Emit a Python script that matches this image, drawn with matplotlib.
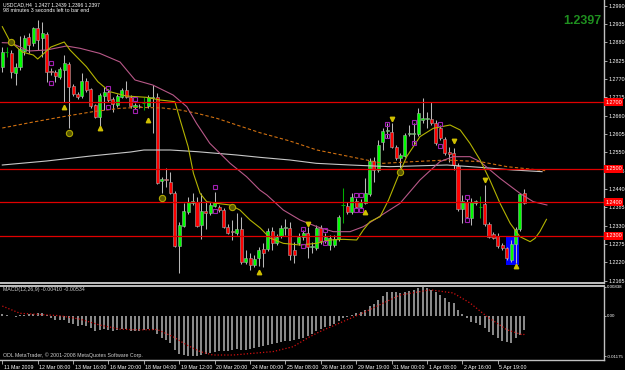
import matplotlib
matplotlib.use("Agg")
import matplotlib.pyplot as plt
from matplotlib.patches import Rectangle
from matplotlib.transforms import ScaledTranslation

plt.rcParams['font.family'] = ['Liberation Sans', 'DejaVu Sans']

# USDCAD H4 candles
opens = [1.2807, 1.2851, 1.2848, 1.2789, 1.2806, 1.2854, 1.2897, 1.2878, 1.2923, 1.2893,
         1.2905, 1.2793, 1.2792, 1.2775, 1.2797, 1.2815, 1.2750, 1.2725, 1.2719, 1.2765,
         1.2740, 1.2691, 1.2655, 1.2719, 1.2732, 1.2709, 1.2692, 1.2717, 1.2737, 1.2717,
         1.2685, 1.2690, 1.2698, 1.2689, 1.2713, 1.2715, 1.2465, 1.2470, 1.2461, 1.2429,
         1.2270, 1.2330, 1.2370, 1.2399, 1.2402, 1.2332, 1.2374, 1.2367, 1.2390, 1.2385,
         1.2377, 1.2327, 1.2314, 1.2307, 1.2319, 1.2220, 1.2234, 1.2212, 1.2232, 1.2260,
         1.2259, 1.2314, 1.2279, 1.2299, 1.2323, 1.2322, 1.2257, 1.2279, 1.2295, 1.2309,
         1.2265, 1.2264, 1.2324, 1.2287, 1.2272, 1.2272, 1.2289, 1.2392, 1.2390, 1.2370,
         1.2404, 1.2387, 1.2399, 1.2424, 1.2524, 1.2497, 1.2580, 1.2614, 1.2612, 1.2565,
         1.2532, 1.2540, 1.2605, 1.2605, 1.2605, 1.2647, 1.2650, 1.2649, 1.2637, 1.2622,
         1.2589, 1.2550, 1.2547, 1.2510, 1.2379, 1.2402, 1.2352, 1.2398, 1.2386, 1.2395,
         1.2334, 1.2305, 1.2299, 1.2272, 1.2262, 1.2227, 1.2275, 1.2319, 1.2427]
highs = [1.2866, 1.2867, 1.2857, 1.2818, 1.2899, 1.2902, 1.2908, 1.2927, 1.2947, 1.2942,
         1.2911, 1.2803, 1.2797, 1.2806, 1.2842, 1.2821, 1.2755, 1.2731, 1.2787, 1.2773,
         1.2743, 1.2695, 1.2728, 1.2747, 1.2740, 1.2716, 1.2725, 1.2743, 1.2764, 1.2722,
         1.2698, 1.2695, 1.2717, 1.2722, 1.2752, 1.2727, 1.2477, 1.2503, 1.2492, 1.2434,
         1.2341, 1.2397, 1.2416, 1.2427, 1.2417, 1.2428, 1.2402, 1.2402, 1.2432, 1.2392,
         1.2383, 1.2335, 1.2347, 1.2368, 1.2357, 1.2257, 1.2248, 1.2242, 1.2266, 1.2278,
         1.2323, 1.2327, 1.2305, 1.2332, 1.2350, 1.2342, 1.2282, 1.2309, 1.2317, 1.2327,
         1.2282, 1.2332, 1.2332, 1.2308, 1.2302, 1.2302, 1.2362, 1.2443, 1.2402, 1.2428,
         1.2413, 1.2410, 1.2473, 1.2533, 1.2537, 1.2587, 1.2623, 1.2638, 1.2637, 1.2572,
         1.2548, 1.2608, 1.2632, 1.2637, 1.2682, 1.2712, 1.2672, 1.2702, 1.2647, 1.2632,
         1.2596, 1.2567, 1.2563, 1.2518, 1.2422, 1.2410, 1.2412, 1.2407, 1.2419, 1.2452,
         1.2341, 1.2311, 1.2307, 1.2278, 1.2267, 1.2287, 1.2327, 1.2428, 1.2439]
lows = [1.2791, 1.2837, 1.2773, 1.2752, 1.2797, 1.2842, 1.2848, 1.2869, 1.2857, 1.2837,
        1.2762, 1.2782, 1.2762, 1.2770, 1.2702, 1.2623, 1.2719, 1.2710, 1.2713, 1.2731,
        1.2683, 1.2653, 1.2627, 1.2677, 1.2701, 1.2671, 1.2686, 1.2713, 1.2713, 1.2683,
        1.2680, 1.2683, 1.2677, 1.2683, 1.2608, 1.2455, 1.2427, 1.2447, 1.2425, 1.2266,
        1.2187, 1.2326, 1.2365, 1.2392, 1.2326, 1.2290, 1.2319, 1.2362, 1.2386, 1.2371,
        1.2323, 1.2305, 1.2287, 1.2302, 1.2215, 1.2215, 1.2197, 1.2206, 1.2209, 1.2206,
        1.2254, 1.2257, 1.2272, 1.2293, 1.2302, 1.2227, 1.2217, 1.2272, 1.2287, 1.2232,
        1.2247, 1.2257, 1.2275, 1.2278, 1.2257, 1.2266, 1.2284, 1.2339, 1.2365, 1.2365,
        1.2383, 1.2383, 1.2395, 1.2419, 1.2462, 1.2491, 1.2557, 1.2593, 1.2563, 1.2527,
        1.2503, 1.2536, 1.2599, 1.2572, 1.2599, 1.2637, 1.2622, 1.2632, 1.2572, 1.2587,
        1.2542, 1.2522, 1.2497, 1.2374, 1.2337, 1.2353, 1.2332, 1.2392, 1.2352, 1.2329,
        1.2293, 1.2290, 1.2263, 1.2257, 1.2227, 1.2221, 1.2217, 1.2314, 1.2396]
closes = [1.2852, 1.2851, 1.2791, 1.2807, 1.2860, 1.2893, 1.2872, 1.2923, 1.2887, 1.2908,
          1.2792, 1.2792, 1.2779, 1.2799, 1.2817, 1.2747, 1.2725, 1.2715, 1.2765, 1.2737,
          1.2689, 1.2657, 1.2721, 1.2732, 1.2707, 1.2695, 1.2719, 1.2737, 1.2717, 1.2689,
          1.2692, 1.2689, 1.2698, 1.2717, 1.2717, 1.2459, 1.2469, 1.2467, 1.2429, 1.2270,
          1.2332, 1.2374, 1.2400, 1.2404, 1.2330, 1.2374, 1.2368, 1.2392, 1.2402, 1.2377,
          1.2327, 1.2309, 1.2310, 1.2319, 1.2220, 1.2232, 1.2212, 1.2229, 1.2257, 1.2248,
          1.2314, 1.2279, 1.2297, 1.2322, 1.2327, 1.2242, 1.2242, 1.2295, 1.2307, 1.2267,
          1.2269, 1.2324, 1.2285, 1.2295, 1.2292, 1.2289, 1.2357, 1.2392, 1.2370, 1.2417,
          1.2387, 1.2402, 1.2427, 1.2524, 1.2497, 1.2572, 1.2615, 1.2616, 1.2567, 1.2532,
          1.2542, 1.2602, 1.2608, 1.2609, 1.2669, 1.2652, 1.2654, 1.2637, 1.2577, 1.2592,
          1.2547, 1.2545, 1.2512, 1.2379, 1.2405, 1.2357, 1.2402, 1.2403, 1.2386, 1.2335,
          1.2297, 1.2294, 1.2269, 1.2262, 1.2232, 1.2275, 1.2319, 1.2424, 1.2397]

# moving averages (shifted forward, so they run past the last bar)
ma_fast_bars = [0, 1.7, 4.5, 7, 8, 11, 14, 15.3, 19, 21.6, 24.3, 28, 32.6, 35.6, 39, 40.2,
                42, 43.2, 44.7, 46.2, 48.5, 51.5, 53.7, 56, 58.3, 60.5, 63.5, 67.3, 71, 74.1,
                77.1, 80.1, 81.6, 83.1, 85.4, 87.3, 89.9, 91.4, 94.4, 97.4, 101.2, 103.5,
                105.7, 108, 110.2, 112.5, 114.8, 117, 119.3, 120.4, 121.5, 123]
ma_fast = [1.2927, 1.2884, 1.2851, 1.2842, 1.2830, 1.2866, 1.2881, 1.2857, 1.2807, 1.2762,
           1.2732, 1.2719, 1.2715, 1.2707, 1.2702, 1.2647, 1.2567, 1.2487, 1.2427, 1.2402,
           1.2397, 1.2392, 1.2377, 1.2347, 1.2323, 1.2293, 1.2277, 1.2272, 1.2277, 1.2287,
           1.2289, 1.2287, 1.2317, 1.2342, 1.2357, 1.2407, 1.2492, 1.2537, 1.2597, 1.2622,
           1.2632, 1.2617, 1.2577, 1.2527, 1.2467, 1.2397, 1.2337, 1.2297, 1.2282, 1.2292,
           1.2312, 1.2349]
ma_mid_bars = [0, 2, 6, 10, 14.5, 17.6, 22, 26.6, 30, 34, 38.6, 41.7, 43.9, 46.9, 51.5,
               55.2, 58.2, 59.8, 63.5, 67.3, 71.1, 74.8, 78.6, 81.6, 84.6, 89.9, 94.4, 98.9,
               101.9, 105.7, 108, 112.5, 117, 120, 123.1]
ma_mid = [1.2879, 1.2878, 1.2854, 1.2857, 1.2869, 1.2862, 1.2847, 1.2821, 1.2767, 1.2752,
          1.2722, 1.2687, 1.2637, 1.2577, 1.2517, 1.2477, 1.2437, 1.2422, 1.2377, 1.2347,
          1.2327, 1.2312, 1.2312, 1.2327, 1.2352, 1.2397, 1.2467, 1.2522, 1.2537, 1.2537,
          1.2522, 1.2472, 1.2427, 1.2402, 1.2392]
ma_slow_bars = [0, 7, 14.6, 20.5, 26.6, 31.1, 36.3, 40.2, 44, 48.5, 53, 58.2, 65, 71.1,
                78.6, 86, 92.8, 100.5, 108, 114.1, 122.7]
ma_slow = [1.2623, 1.2641, 1.2659, 1.2672, 1.2682, 1.2685, 1.2683, 1.2677, 1.2667, 1.2652,
           1.2632, 1.2609, 1.2584, 1.2557, 1.2537, 1.2517, 1.2522, 1.2527, 1.2522, 1.2507,
           1.2495]
ma_long_bars = [0, 10, 20, 29, 32, 38, 44, 48.5, 53, 58.2, 65, 71, 78.6, 87.6, 92.8, 100.5,
                108, 115.5, 122]
ma_long = [1.2512, 1.2524, 1.2539, 1.2551, 1.2557, 1.2557, 1.2552, 1.2547, 1.2542, 1.2535,
           1.2527, 1.2517, 1.2512, 1.2507, 1.2509, 1.2512, 1.2505, 1.2497, 1.2492]

levels = [1.2700, 1.2500, 1.2400, 1.2300]
price_ticks = [1.2990, 1.2935, 1.2880, 1.2825, 1.2770, 1.2715, 1.2660, 1.2605, 1.2550,
               1.2495, 1.2440, 1.2385, 1.2330, 1.2275, 1.2220, 1.2165]

box_bars = [114, 116]
box_prices = [1.2212, 1.2297]

frac_bars = [11, 24, 30, 48, 68, 73, 80, 81, 87, 93, 99, 105]
frac_hi = [1.2817, 1.2742, 1.2710, 1.2445, 1.2320, 1.2317, 1.2422, 1.2422, 1.2635, 1.2640,
           1.2635, 1.2415]
frac_lo = [1.2757, 1.2685, 1.2675, 1.2374, 1.2270, 1.2277, 1.2377, 1.2377, 1.2599, 1.2579,
           1.2569, 1.2347]
arrow_up_bars = [14, 22, 33, 58, 82, 116]
arrow_up = [1.2687, 1.2622, 1.2647, 1.2192, 1.2372, 1.2209]
arrow_dn_bars = [69, 88, 102, 109]
arrow_dn = [1.2335, 1.2650, 1.2585, 1.2467]
dot_bars = [2, 15, 36, 52, 90]
dots = [1.2882, 1.2607, 1.2412, 1.2387, 1.2492]

# MACD(12,26,9) main histogram, one value per bar
macd = [0.0006, 0.0003, -0.0002, -0.0003, 0.0001, 0.0003, 0.0004, 0.0006, 0.0008, 0.0007,
        0.0003, -0.0008, -0.0011, -0.0011, -0.0013, -0.0020, -0.0025, -0.0029, -0.0027, -0.0031,
        -0.0037, -0.0043, -0.0041, -0.0039, -0.0041, -0.0043, -0.0041, -0.0039, -0.0039, -0.0043,
        -0.0043, -0.0043, -0.0041, -0.0039, -0.0041, -0.0053, -0.0066, -0.0070, -0.0080, -0.0099,
        -0.0111, -0.0114, -0.0117, -0.01175, -0.0117, -0.0114, -0.0111, -0.0109, -0.0106, -0.0103,
        -0.0101, -0.0101, -0.0099, -0.0097, -0.0099, -0.0099, -0.0097, -0.0095, -0.0092, -0.0088,
        -0.0085, -0.0082, -0.0080, -0.0076, -0.0073, -0.0072, -0.0070, -0.0068, -0.0065, -0.0058,
        -0.0052, -0.0045, -0.0038, -0.0033, -0.0029, -0.0025, -0.0014, -0.0008, -0.0003, 0.0002,
        0.0009, 0.0011, 0.0017, 0.0029, 0.0035, 0.0046, 0.0058, 0.0068, 0.0068, 0.0068,
        0.0066, 0.0068, 0.0072, 0.0075, 0.0080, 0.0083, 0.0081, 0.0075, 0.0068, 0.0061,
        0.0051, 0.0041, 0.0036, 0.0017, 0.0006, -0.0006, -0.0018, -0.0022, -0.0027, -0.0037,
        -0.0047, -0.0056, -0.0065, -0.0072, -0.0077, -0.0080, -0.0065, -0.0056, -0.0041]
signal_bars = [0, 4, 13, 17.6, 22, 26.6, 31.1, 35, 38.6, 41.7, 44.7, 47.6, 52.2, 56.7, 61.2,
               65.7, 69.5, 71.8, 81.5, 89.9, 96.7, 101.9, 105.7, 109.6, 114.1, 117.7, 118]
signal = [0.0028, 0.0007, 0.0, -0.0010, -0.0027, -0.0039, -0.0041, -0.0040, -0.0061, -0.0085,
          -0.0104, -0.0114, -0.0114, -0.0109, -0.0104, -0.0090, -0.0061, -0.0046, 0.0008, 0.0060,
          0.0075, 0.0066, 0.0037, -0.0003, -0.0041, -0.0056, -0.00534]
macd_ticks = [0.00838, 0.0, -0.01175]

time_bars = [0, 8, 16, 24, 32, 40, 48, 56, 64, 72, 80, 88, 96, 104, 112]
time_labels = ['11 Mar 2009', '12 Mar 08:00', '13 Mar 16:00', '16 Mar 20:00', '18 Mar 04:00',
               '19 Mar 12:00', '20 Mar 20:00', '24 Mar 00:00', '25 Mar 08:00', '26 Mar 16:00',
               '29 Mar 19:00', '31 Mar 00:00', '1 Apr 08:00', '2 Apr 16:00', '5 Apr 19:00']

GRID = '#c0c0c0'
fig = plt.figure(figsize=(6.25, 3.7), dpi=100, facecolor='black')
ax = fig.add_axes([0, 1 - 283 / 370, 604 / 625, 283 / 370])
mx = fig.add_axes([0, 1 - 359.5 / 370, 604 / 625, 74 / 370], sharex=ax)

for a in (ax, mx):
    a.set_facecolor('black')
    a.spines['left'].set_visible(False)
    for s in ('right', 'top', 'bottom'):
        a.spines[s].set_color(GRID)
        a.spines[s].set_linewidth(1.0)
ax.spines['top'].set_visible(False)
ax.spines['bottom'].set_linewidth(1.4)
mx.spines['top'].set_linewidth(1.4)

# candles
x = list(range(len(opens)))
wick_col = []
for o, c in zip(opens, closes):
    wick_col.append('#00b000' if o == c else '#b8b8b8')
ax.vlines(x, lows, highs, colors=wick_col, linewidth=0.75, zorder=3)
for i, (o, c) in enumerate(zip(opens, closes)):
    if o == c:
        ax.hlines(o, i - 0.35, i + 0.35, colors='#00b000', linewidth=0.75, zorder=4)
        continue
    col = '#00ff00' if c > o else '#ff0000'
    ax.bar(i, abs(c - o), bottom=min(o, c), width=0.7, color=col,
           edgecolor='#a8a8a8', linewidth=0.4, zorder=4)

ax.add_patch(Rectangle((box_bars[0] - 0.2, box_prices[0]), box_bars[1] - box_bars[0] + 0.9,
                       box_prices[1] - box_prices[0], facecolor='#0000ff', edgecolor='none',
                       zorder=2))

ax.plot(ma_long_bars, ma_long, color='#c8c8c8', linewidth=0.8, zorder=5)
ax.plot(ma_slow_bars, ma_slow, color='#d07010', linewidth=0.8, dashes=(3, 2), zorder=5)
ax.plot(ma_mid_bars, ma_mid, color='#b85888', linewidth=0.8, zorder=5)
ax.plot(ma_fast_bars, ma_fast, color='#b4b400', linewidth=0.8, zorder=5)

for lv in levels:
    ax.axhline(lv, color='#e00000', linewidth=0.9, zorder=6)

ax.plot(frac_bars, frac_hi, 's', ms=3.0, mfc='none', mec='#a020b0', mew=0.8, zorder=7)
ax.plot(frac_bars, frac_lo, 's', ms=3.0, mfc='none', mec='#a020b0', mew=0.8, zorder=7)
ax.plot(arrow_up_bars, arrow_up, '^', ms=3.2, color='#d0c000', zorder=7)
ax.plot(arrow_dn_bars, arrow_dn, 'v', ms=3.2, color='#d0c000', zorder=7)
ax.plot(dot_bars, dots, 'o', ms=4.5, mfc='#5a5a00', mec='#b0a800', mew=0.8, zorder=7)

ax.set_xlim(-0.52, 136.0)
ax.set_ylim(1.2158, 1.3007)
ax.yaxis.tick_right()
ax.set_yticks(price_ticks)
ax.set_yticklabels(['%.4f' % p for p in price_ticks])
ax.tick_params(axis='y', colors=GRID, labelcolor='white', labelsize=3.9, length=2.5,
               width=0.6, pad=1.0)
ax.tick_params(axis='x', bottom=False, labelbottom=False)

for lv in levels:
    ax.text(1.002, lv, '%.4f' % lv, transform=ax.get_yaxis_transform(), ha='left',
            va='center', fontsize=3.9, color='white', zorder=10, clip_on=False,
            bbox=dict(boxstyle='square,pad=0.25', fc='#ff0000', ec='none'))

# MACD window
mx.vlines(x, 0, macd, colors='#b4b4b4', linewidth=1.1)
mx.plot(signal_bars, signal, color='#d01010', linewidth=0.9, linestyle=(0, (1, 1.6)))
mx.set_ylim(-0.0127, 0.00876)
mx.yaxis.tick_right()
mx.set_yticks(macd_ticks)
mx.set_yticklabels(['0.00838', '0.00', '-0.01175'])
mx.tick_params(axis='y', colors=GRID, labelcolor='white', labelsize=3.2, length=1.5,
               width=0.6, pad=0.4)
mx.set_xticks(time_bars)
mx.set_xticklabels(time_labels)
mx.tick_params(axis='x', colors=GRID, labelcolor='white', labelsize=3.8, length=3,
               width=0.6, pad=0.8)
shift = ScaledTranslation(1.5 / 100, 0, fig.dpi_scale_trans)
for lab in mx.get_xticklabels():
    lab.set_ha('left')
    lab.set_transform(lab.get_transform() + shift)

# texts
fig.text(3 / 625, 1 - 5 / 370, 'USDCAD,H4  %.4f %.4f %.4f %.4f'
         % (opens[-1], highs[-1], lows[-1], closes[-1]),
         fontsize=3.6, color='white', va='center')
fig.text(3 / 625, 1 - 11 / 370, '98 minutes 3 seconds left to bar end',
         fontsize=3.8, color='white', va='center')
fig.text(601 / 625, 1 - 21 / 370, '%.4f' % closes[-1], fontsize=9, weight='bold',
         color='#1f8f1f', ha='right', va='center')
fig.text(3 / 625, 1 - 289.5 / 370, 'MACD(12,26,9) %.5f %.5f' % (macd[-1], signal[-1]),
         fontsize=3.8, color='#d0d0d0', va='center')
fig.text(3 / 625, 1 - 355.5 / 370, 'ODL MetaTrader, \u00a9 2001-2008 MetaQuotes Software Corp.',
         fontsize=3.8, color='#d0d0d0', va='center')

fig.savefig('out.png', dpi=100, facecolor='black')
